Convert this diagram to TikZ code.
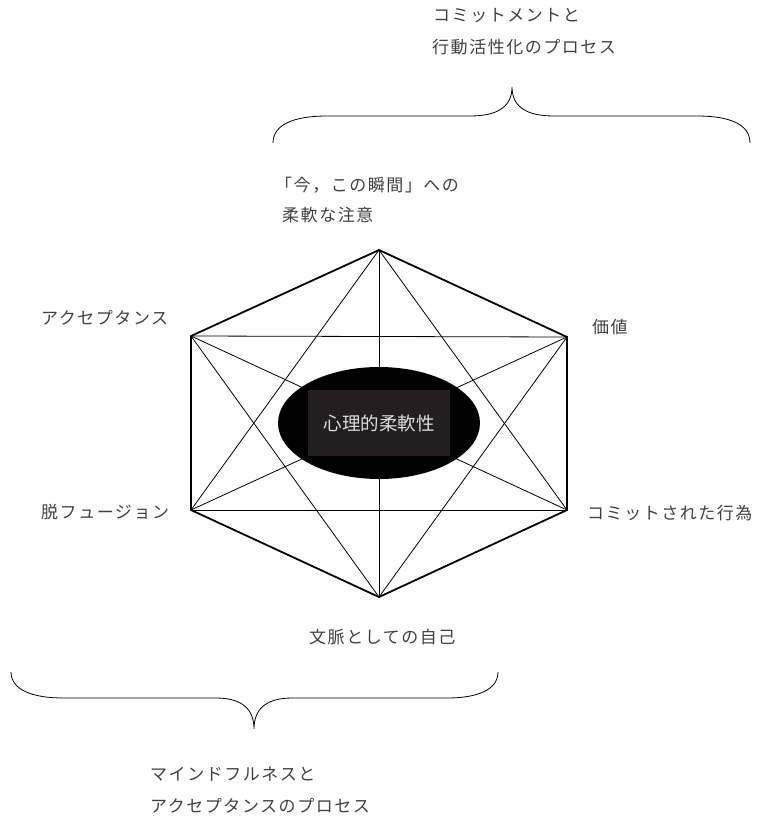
\documentclass[tikz,border=0pt]{standalone}
\usepackage{fontspec}
\newfontfamily\jp[LetterSpace=9]{Noto Sans CJK JP}
\newfontfamily\jpc{Noto Sans CJK JP}
\definecolor{txt}{HTML}{404040}
\definecolor{boxgray}{HTML}{231F20}
\definecolor{ctxt}{HTML}{DCDCDC}
\begin{document}
\begin{tikzpicture}[x=1pt,y=-1pt,
  lbl/.style={anchor=west,inner sep=0pt,text=txt,font=\jp\fontsize{17}{19}\selectfont},
  edge/.style={line width=1.8pt,line join=miter},
  diag/.style={line width=0.8pt},
  brace/.style={line width=0.8pt}]
\useasboundingbox (0,0) rectangle (757,818);
% hexagon vertices
\coordinate (T) at (379,250);
\coordinate (UL) at (191,336);
\coordinate (UR) at (567,337);
\coordinate (LL) at (191,510);
\coordinate (LR) at (567,510);
\coordinate (B) at (379,597);
% diagonals
\foreach \a/\b in {T/LL,T/LR,T/B,UL/UR,UL/LR,UL/B,UR/LL,UR/B,LL/LR}
  \draw[diag] (\a) -- (\b);
% edges
\draw[edge] (T) -- (UR) -- (LR) -- (B) -- (LL) -- (UL) -- cycle;
% center
\fill[black] (379,423) ellipse [x radius=101, y radius=56];
\fill[boxgray] (308,390) rectangle (450,456);
\node[inner sep=0pt,text=ctxt,font=\jpc\fontsize{18.5}{20}\selectfont] (core) at (379,423) {心理的柔軟性};
% vertex labels
\node[lbl] (now1) at (275,185) {「今，この瞬間」への};
\node[lbl] (now2) at (282,215) {柔軟な注意};
\node[lbl] (acc) at (41,318) {アクセプタンス};
\node[lbl] (val) at (592,327) {価値};
\node[lbl] (def) at (41,512) {脱フュージョン};
\node[lbl] (com) at (587,513) {コミットされた行為};
\node[lbl] (self) at (309,637) {文脈としての自己};
% top group
\node[lbl] (top1) at (433,16) {コミットメントと};
\node[lbl] (top2) at (432,47) {行動活性化のプロセス};
\draw[brace] (273,143) .. controls (273,124) and (295,116) .. (327,116) -- (470,116)
  .. controls (500,116) and (512,105) .. (512,87)
  .. controls (512,105) and (524,116) .. (554,116) -- (697,116)
  .. controls (729,116) and (750,124) .. (750,143);
% bottom group
\draw[brace] (11,672) .. controls (11,690) and (33,698) .. (63,698) -- (216,698)
  .. controls (243,698) and (254,710) .. (254,729)
  .. controls (254,710) and (265,698) .. (292,698) -- (447,698)
  .. controls (477,698) and (498,690) .. (498,672);
\node[lbl] (bot1) at (150,774) {マインドフルネスと};
\node[lbl] (bot2) at (150,806) {アクセプタンスのプロセス};
\end{tikzpicture}
\end{document}
